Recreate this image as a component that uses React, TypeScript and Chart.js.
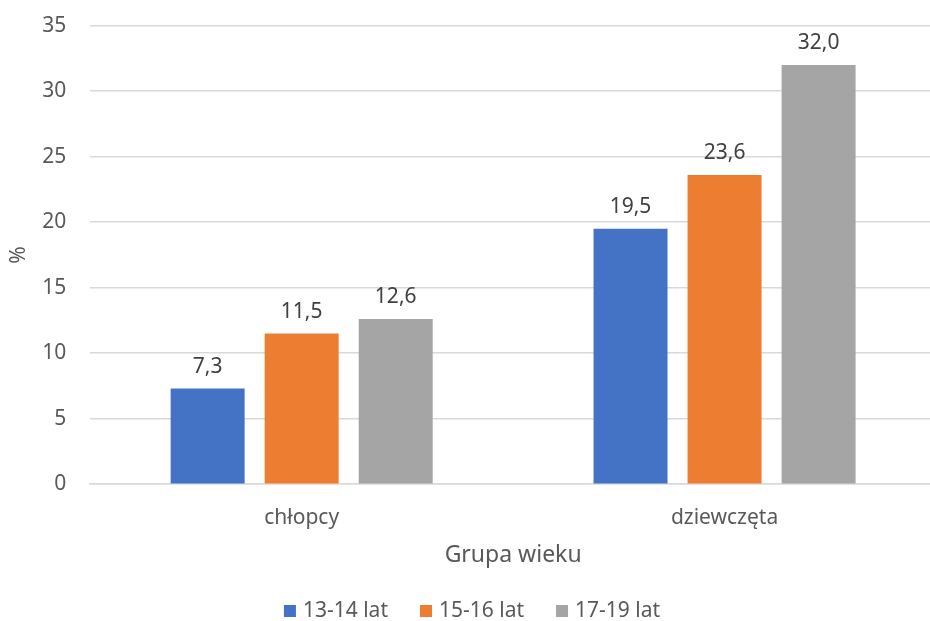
import React, { useEffect, useRef } from "react";
import { Chart, registerables } from "chart.js";

Chart.register(...registerables);

const categories = ["chłopcy", "dziewczęta"];
const seriesLabels = ["13-14 lat", "15-16 lat", "17-19 lat"];
const values1314 = [7.3, 19.5];
const values1516 = [11.5, 23.6];
const values1719 = [12.6, 32.0];
const seriesColors = ["#4472C4", "#ED7D31", "#A5A5A5"];

const FONT = "'Noto Sans', 'Open Sans', sans-serif";
const TEXT = "#595959";

// canvas is a bit taller than the page and shifted up
const SHIFT = 11;
const W = 940;
const H = 621 + SHIFT;
const LEGEND_CENTER_X = 472;

// value labels above each bar
const valueLabels = {
  id: "valueLabels",
  afterDatasetsDraw(chart: Chart) {
    const ctx = chart.ctx;
    ctx.save();
    ctx.font = `21px ${FONT}`;
    ctx.fillStyle = "#404040";
    ctx.textAlign = "center";
    ctx.textBaseline = "alphabetic";
    chart.data.datasets.forEach((ds, i) => {
      const meta = chart.getDatasetMeta(i);
      meta.data.forEach((bar: any, j: number) => {
        const v = ds.data[j] as number;
        ctx.fillText(v.toFixed(1).replace(".", ","), bar.x, bar.y - 16);
      });
    });
    ctx.restore();
  },
};

// legend row under the axis title
const bottomLegend = {
  id: "bottomLegend",
  afterDraw(chart: Chart) {
    const ctx = chart.ctx;
    ctx.save();
    ctx.font = `21px ${FONT}`;
    ctx.textBaseline = "middle";
    ctx.textAlign = "left";
    const box = 12;
    const gapBoxText = 7;
    const gapItems = 32;
    const items = chart.data.datasets.map((ds) => ({
      label: ds.label as string,
      color: ds.backgroundColor as string,
      w: ctx.measureText(ds.label as string).width,
    }));
    const total =
      items.reduce((s, it) => s + box + gapBoxText + it.w, 0) + gapItems * (items.length - 1);
    let x = LEGEND_CENTER_X - total / 2;
    const y = 611 + SHIFT;
    items.forEach((it) => {
      ctx.fillStyle = it.color;
      ctx.fillRect(x, y - box / 2, box, box);
      x += box + gapBoxText;
      ctx.fillStyle = TEXT;
      ctx.fillText(it.label, x, y);
      x += it.w + gapItems;
    });
    ctx.restore();
  },
};

export default function App() {
  const ref = useRef<HTMLCanvasElement>(null);
  useEffect(() => {
    document.body.style.margin = "0";
    document.body.style.overflow = "hidden";
    const chart = new Chart(ref.current!, {
      type: "bar",
      data: {
        labels: categories,
        datasets: [values1314, values1516, values1719].map((d, i) => ({
          label: seriesLabels[i],
          data: d,
          backgroundColor: seriesColors[i],
          categoryPercentage: 0.667,
          barPercentage: 0.787,
        })),
      },
      options: {
        animation: false,
        responsive: false,
        maintainAspectRatio: false,
        layout: { padding: { left: 2, top: 3, right: 4, bottom: 54 } },
        scales: {
          y: {
            min: 0,
            max: 35,
            ticks: { stepSize: 5, color: TEXT, font: { family: FONT, size: 21 }, padding: 24 },
            grid: { color: "#D9D9D9", lineWidth: 1.5, drawTicks: false },
            border: { display: false },
            title: {
              display: true,
              text: "%",
              color: TEXT,
              font: { family: FONT, size: 21 },
              padding: { top: 4, bottom: -13 },
            },
          },
          x: {
            ticks: { color: TEXT, font: { family: FONT, size: 21 }, padding: 21 },
            grid: { display: false, drawTicks: false },
            border: { color: "#D9D9D9", width: 1.5 },
            title: {
              display: true,
              text: "Grupa wieku",
              color: TEXT,
              font: { family: FONT, size: 23 },
              padding: { top: -10, bottom: -2 },
            },
          },
        },
        plugins: {
          legend: { display: false },
          tooltip: { enabled: false },
        },
      },
      plugins: [valueLabels, bottomLegend],
    });
    return () => chart.destroy();
  }, []);
  return (
    <div style={{ position: "fixed", left: 0, top: -SHIFT, width: W, height: H }}>
      <canvas ref={ref} width={W} height={H} />
    </div>
  );
}
